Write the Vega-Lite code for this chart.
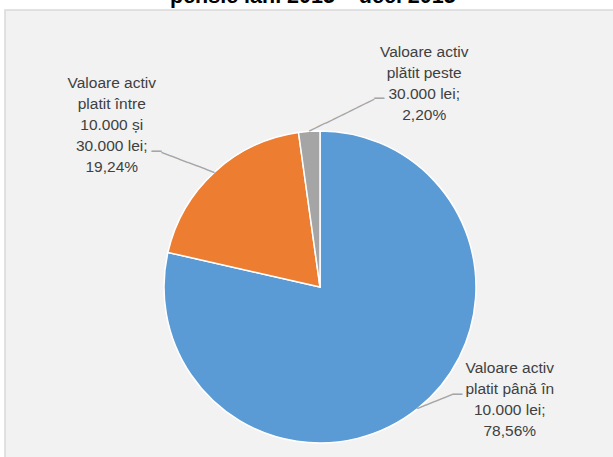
{
  "$schema": "https://vega.github.io/schema/vega-lite/v6.json",
  "width": 630,
  "height": 554,
  "autosize": "none",
  "padding": {"left": 5, "top": 10, "right": 0, "bottom": 0},
  "background": "white",
  "view": {"fill": "#f2f2f2", "stroke": "#d9d9d9", "strokeWidth": 1.5},
  "config": {"view": {"fill": "#f2f2f2", "stroke": "#d9d9d9", "strokeWidth": 1.5}},
  "title": {
    "text": "pensie ian. 2015 – dec. 2015",
    "font": "Liberation Sans",
    "fontSize": 21.5,
    "fontWeight": "bold",
    "color": "#000000",
    "baseline": "alphabetic",
    "offset": 1,
    "dy": 20,
    "anchor": "start",
    "dx": 165
  },
  "data": {
    "values": [
      {"cat": "Valoare activ platit până în 10.000 lei", "share": 78.56, "ord": 1, "label": "Valoare activ\nplatit până în\n10.000 lei;\n78,56%"},
      {"cat": "Valoare activ platit între 10.000 și 30.000 lei", "share": 19.24, "ord": 2, "label": "Valoare activ\nplatit între\n10.000  și\n30.000 lei;\n19,24%"},
      {"cat": "Valoare activ plătit peste 30.000 lei", "share": 2.20, "ord": 3, "label": "Valoare activ\nplătit peste\n30.000 lei;\n2,20%"}
    ]
  },
  "layer": [
    {
      "mark": {"type": "arc", "outerRadius": 156, "stroke": "white", "strokeWidth": 1.5},
      "encoding": {
        "theta": {"field": "share", "type": "quantitative", "stack": true},
        "order": {"field": "ord", "type": "quantitative"},
        "color": {
          "field": "cat",
          "type": "nominal",
          "scale": {
            "domain": ["Valoare activ platit până în 10.000 lei", "Valoare activ platit între 10.000 și 30.000 lei", "Valoare activ plătit peste 30.000 lei"],
            "range": ["#5b9bd5", "#ed7d31", "#a5a5a5"]
          },
          "legend": null
        }
      }
    },
    {
      "mark": {"type": "text", "radius": 156, "angle": -21.8, "font": "DejaVu Sans Mono", "fontSize": 15.66, "fill": "#a6a6a6", "align": "left", "baseline": "middle"},
      "encoding": {
        "theta": {"field": "share", "type": "quantitative", "stack": true},
        "order": {"field": "ord", "type": "quantitative"},
        "text": {"condition": {"test": "datum.ord === 1", "value": "────"}, "value": ""}
      }
    },
    {
      "mark": {"type": "text", "radius": 156, "dx": 35, "dy": -14, "font": "DejaVu Sans Mono", "fontSize": 16.6, "fill": "#a6a6a6", "align": "left", "baseline": "middle"},
      "encoding": {
        "theta": {"field": "share", "type": "quantitative", "stack": true},
        "order": {"field": "ord", "type": "quantitative"},
        "text": {"condition": {"test": "datum.ord === 1", "value": "─"}, "value": ""}
      }
    },
    {
      "mark": {"type": "text", "radius": 156, "angle": -159.3, "font": "DejaVu Sans Mono", "fontSize": 15.67, "fill": "#a6a6a6", "align": "left", "baseline": "middle"},
      "encoding": {
        "theta": {"field": "share", "type": "quantitative", "stack": true},
        "order": {"field": "ord", "type": "quantitative"},
        "text": {"condition": {"test": "datum.ord === 2", "value": "──────"}, "value": ""}
      }
    },
    {
      "mark": {"type": "text", "radius": 156, "dx": -53, "dy": -20, "font": "DejaVu Sans Mono", "fontSize": 16.6, "fill": "#a6a6a6", "align": "right", "baseline": "middle"},
      "encoding": {
        "theta": {"field": "share", "type": "quantitative", "stack": true},
        "order": {"field": "ord", "type": "quantitative"},
        "text": {"condition": {"test": "datum.ord === 2", "value": "─"}, "value": ""}
      }
    },
    {
      "mark": {"type": "text", "radius": 156, "angle": -26.2, "font": "DejaVu Sans Mono", "fontSize": 15.03, "fill": "#a6a6a6", "align": "left", "baseline": "middle"},
      "encoding": {
        "theta": {"field": "share", "type": "quantitative", "stack": true},
        "order": {"field": "ord", "type": "quantitative"},
        "text": {"condition": {"test": "datum.ord === 3", "value": "────────"}, "value": ""}
      }
    },
    {
      "mark": {"type": "text", "radius": 156, "dx": 65, "dy": -32, "font": "DejaVu Sans Mono", "fontSize": 16.6, "fill": "#a6a6a6", "align": "left", "baseline": "middle"},
      "encoding": {
        "theta": {"field": "share", "type": "quantitative", "stack": true},
        "order": {"field": "ord", "type": "quantitative"},
        "text": {"condition": {"test": "datum.ord === 3", "value": "─"}, "value": ""}
      }
    },
    {
      "mark": {"type": "text", "radius": 200, "dx": 65, "dy": -75, "lineBreak": "\n", "font": "Liberation Sans", "fontSize": 15.5, "lineHeight": 21, "fill": "#404040", "align": "center", "baseline": "middle"},
      "encoding": {
        "theta": {"field": "share", "type": "quantitative", "stack": true},
        "order": {"field": "ord", "type": "quantitative"},
        "text": {"condition": {"test": "datum.ord === 1", "field": "label"}, "value": ""}
      }
    },
    {
      "mark": {"type": "text", "radius": 200, "dx": -73, "dy": -57, "lineBreak": "\n", "font": "Liberation Sans", "fontSize": 15.5, "lineHeight": 21, "fill": "#404040", "align": "center", "baseline": "middle"},
      "encoding": {
        "theta": {"field": "share", "type": "quantitative", "stack": true},
        "order": {"field": "ord", "type": "quantitative"},
        "text": {"condition": {"test": "datum.ord === 2", "field": "label"}, "value": ""}
      }
    },
    {
      "mark": {"type": "text", "radius": 200, "dx": 118, "dy": -35, "lineBreak": "\n", "font": "Liberation Sans", "fontSize": 15.5, "lineHeight": 21, "fill": "#404040", "align": "center", "baseline": "middle"},
      "encoding": {
        "theta": {"field": "share", "type": "quantitative", "stack": true},
        "order": {"field": "ord", "type": "quantitative"},
        "text": {"condition": {"test": "datum.ord === 3", "field": "label"}, "value": ""}
      }
    }
  ]
}
